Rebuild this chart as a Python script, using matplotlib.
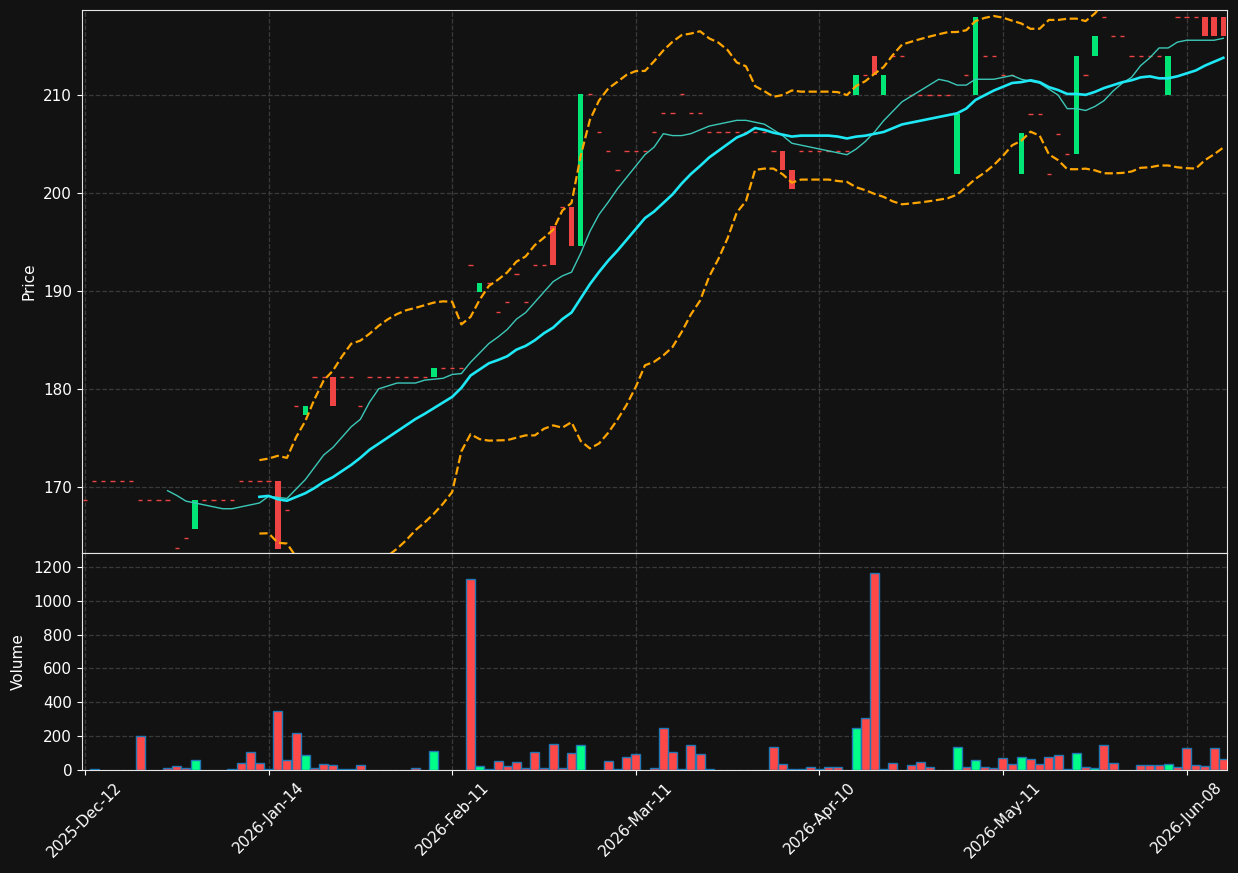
import numpy as np
import pandas as pd
import matplotlib
matplotlib.use('Agg')
import matplotlib.pyplot as plt

# --- values, one entry per trading day ---
opens = [
    168.65, 170.6, 170.6, 170.6, 170.6, 170.6, 168.65, 168.65, 168.65, 168.65,
    163.77, 164.8, 165.7, 168.65, 168.65, 168.65, 168.65, 170.6, 170.6, 170.6,
    170.6, 170.6, 167.63, 178.25, 177.3, 181.2, 181.2, 181.2, 181.2, 181.2,
    178.25, 181.2, 181.2, 181.2, 181.2, 181.2, 181.2, 181.2, 181.2, 182.14,
    182.14, 182.14, 192.7, 189.86, 190.78, 187.9, 188.83, 191.73, 188.83, 192.69,
    192.69, 196.62, 198.53, 198.53, 194.6, 210.1, 206.25, 204.3, 202.39, 204.3,
    204.3, 204.3, 206.25, 208.2, 208.2, 210.1, 208.2, 208.2, 206.25, 206.25,
    206.25, 206.25, 206.25, 206.25, 206.25, 204.3, 204.3, 202.39, 204.3, 204.3,
    204.3, 204.3, 204.3, 204.3, 210.04, 212.0, 213.93, 210.04, 213.93, 213.93,
    210.04, 210.04, 210.04, 210.04, 210.04, 201.93, 212.0, 209.96, 213.93, 213.93,
    212.0, 212.0, 201.93, 208.05, 208.05, 201.96, 206.04, 204.0, 204.0, 212.0,
    213.93, 217.96, 216.0, 216.0, 214.0, 214.0, 214.0, 214.0, 209.96, 217.96,
    217.96, 217.96, 217.96, 217.96, 217.96,
]
closes = [
    168.65, 170.6, 170.6, 170.6, 170.6, 170.6, 168.65, 168.65, 168.65, 168.65,
    163.77, 164.8, 168.7, 168.65, 168.65, 168.65, 168.65, 170.6, 170.6, 170.6,
    170.6, 163.7, 167.63, 178.25, 178.25, 181.2, 181.2, 178.25, 181.2, 181.2,
    178.25, 181.2, 181.2, 181.2, 181.2, 181.2, 181.2, 181.2, 182.14, 182.14,
    182.14, 182.14, 192.7, 190.78, 190.78, 187.9, 188.83, 191.73, 188.83, 192.69,
    192.69, 192.65, 198.53, 194.6, 210.1, 210.1, 206.25, 204.3, 202.39, 204.3,
    204.3, 204.3, 206.25, 208.2, 208.2, 210.1, 208.2, 208.2, 206.25, 206.25,
    206.25, 206.25, 206.25, 206.25, 206.25, 204.3, 202.32, 200.4, 204.3, 204.3,
    204.3, 204.3, 204.3, 204.3, 212.0, 212.0, 212.0, 212.0, 213.93, 213.93,
    210.04, 210.04, 210.04, 210.04, 210.04, 208.05, 212.0, 217.96, 213.93, 213.93,
    212.0, 212.0, 206.1, 208.05, 208.05, 201.96, 206.04, 204.0, 214.0, 212.0,
    216.05, 217.96, 216.0, 216.0, 214.0, 214.0, 214.0, 214.0, 214.0, 217.96,
    217.96, 217.96, 216.0, 216.0, 216.0,
]
volumes = [
    0, 3, 0, 0, 0, 0, 200, 0, 0, 10,
    22, 14, 61, 0, 0, 0, 3, 40, 105, 40,
    3, 347, 61, 217, 87, 10, 34, 28, 3, 3,
    28, 0, 0, 0, 0, 0, 10, 0, 110, 0,
    0, 0, 1130, 22, 3, 51, 22, 45, 12, 105,
    12, 152, 12, 99, 146, 0, 0, 51, 3, 75,
    93, 0, 10, 247, 105, 8, 146, 93, 3, 0,
    0, 0, 0, 0, 0, 134, 34, 3, 3, 16,
    3, 16, 16, 0, 247, 306, 1163, 3, 40, 0,
    28, 45, 16, 0, 0, 134, 16, 57, 16, 10,
    69, 34, 75, 63, 34, 75, 87, 3, 99, 16,
    10, 146, 40, 0, 0, 28, 28, 28, 34, 16,
    128, 28, 22, 128, 63,
]
tick_labels = ['2025-Dec-12', '2026-Jan-14', '2026-Feb-11', '2026-Mar-11',
               '2026-Apr-10', '2026-May-11', '2026-Jun-08']

BG = '#121212'
UP = '#00e676'
DOWN = '#ef4444'
VOL_UP = '#00ff88'
VOL_DOWN = '#ff4848'
GRID = '#3a3a3a'
SPINE = '#e6e6e6'


def main():
    o = np.array(opens)
    c = np.array(closes)
    v = np.array(volumes, dtype=float)
    x = np.arange(len(o))

    s = pd.Series(c)
    ma10 = s.rolling(10).mean()
    ma20 = s.rolling(20).mean()
    sd20 = s.rolling(20).std()
    upper = ma20 + 2 * sd20
    lower = ma20 - 2 * sd20

    fig = plt.figure(figsize=(12.38, 8.73), dpi=100, facecolor=BG)
    ax_p = fig.add_axes([0.0662, 0.3666, 0.9249, 0.6219], facecolor=BG)
    ax_v = fig.add_axes([0.0662, 0.118, 0.9249, 0.2486], facecolor=BG, sharex=ax_p)

    # candles (no visible wicks in the reference)
    up = c > o
    dn = c < o
    flat = c == o
    ax_p.bar(x[up], c[up] - o[up], bottom=o[up], width=0.6, color=UP, zorder=3)
    ax_p.bar(x[dn], o[dn] - c[dn], bottom=c[dn], width=0.6, color=DOWN, zorder=3)
    ax_p.hlines(o[flat], x[flat] - 0.23, x[flat] + 0.23, color=DOWN, lw=1.0, zorder=3)

    # moving averages + bollinger
    ax_p.plot(x, ma10, color='#3cc8b8', lw=1.0, zorder=4)
    ax_p.plot(x, ma20, color='#1ee8f5', lw=1.9, zorder=4)
    ax_p.plot(x, upper, color='#ffa500', lw=1.6, ls='--', zorder=4)
    ax_p.plot(x, lower, color='#ffa500', lw=1.6, ls='--', zorder=4)

    # volume
    has_v = v > 0
    vcol = np.where(c > o, VOL_UP, VOL_DOWN)
    ax_v.bar(x[has_v], v[has_v], width=0.98, color=vcol[has_v],
             edgecolor='#1f77b4', linewidth=1.0, zorder=3)

    ax_p.set_ylim(163.27, 218.67)
    ax_p.set_yticks([170, 180, 190, 200, 210])
    ax_v.set_ylim(0, 1283)
    ax_v.set_yticks(np.arange(0, 1201, 200))
    ax_v.set_xlim(-0.33, 124.4)
    ax_v.set_xticks(np.arange(0, 121, 20))
    ax_v.set_xticklabels(tick_labels, rotation=45, ha='center')

    for ax in (ax_p, ax_v):
        ax.grid(True, ls='--', color=GRID, lw=0.9, zorder=0)
        ax.set_axisbelow(True)
        for sp in ax.spines.values():
            sp.set_color(SPINE)
        ax.tick_params(colors='white', labelcolor='white', labelsize=11)
    ax_p.tick_params(axis='x', length=0, labelbottom=False)

    ax_p.set_ylabel('Price', color='white', fontsize=11)
    ax_v.set_ylabel('Volume', color='white', fontsize=11)
    ax_p.yaxis.set_label_coords(-0.040, 0.5)
    ax_v.yaxis.set_label_coords(-0.049, 0.5)

    fig.savefig('out.png', dpi=100, facecolor=BG)


if __name__ == '__main__':
    main()
